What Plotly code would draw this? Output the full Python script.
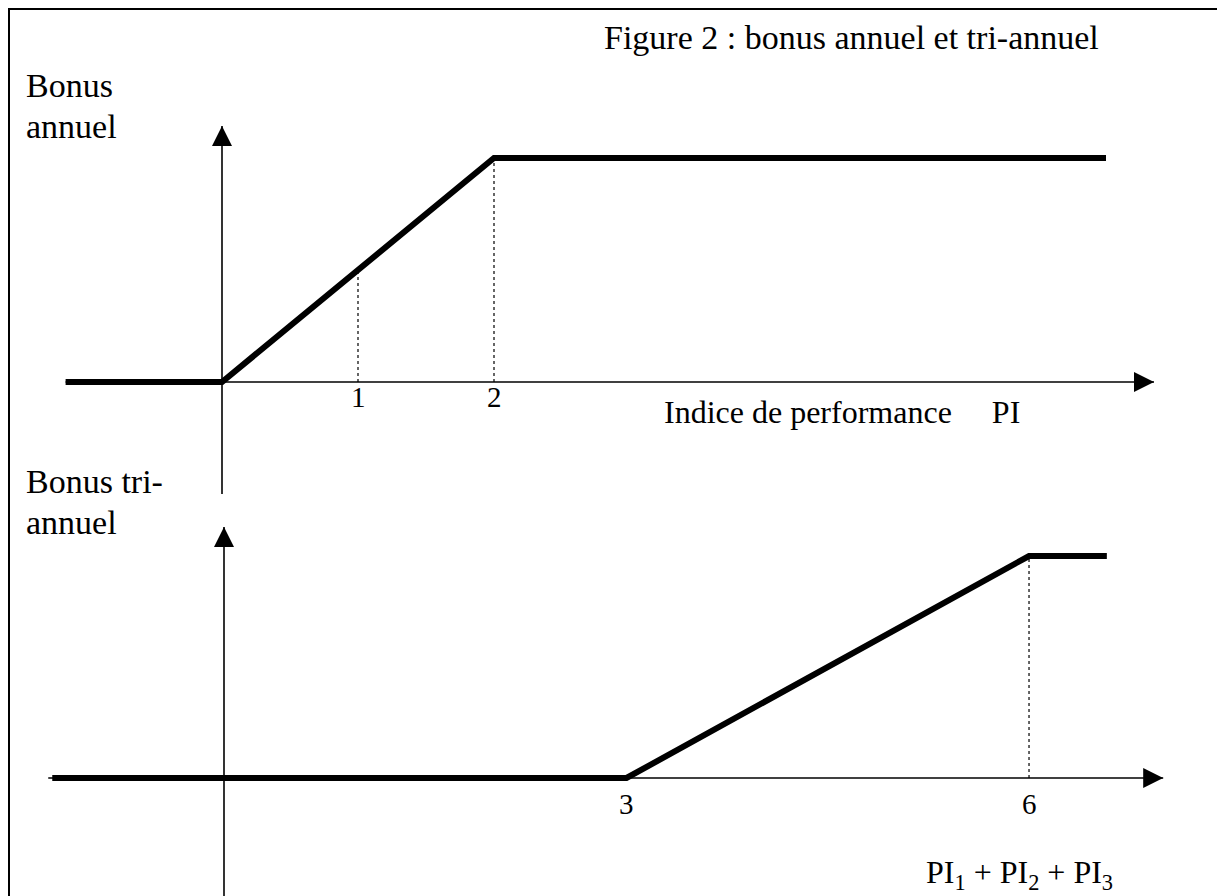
import numpy as np
import plotly.graph_objects as go

# --- data (diagram units) ---
pi_annual = [-1.15, 0, 2, 6.5]
bonus_annual = [0, 0, 1, 1]
annual_ticks = [1, 2]

pi_tri = [-1.28, 3, 6, 6.58]
bonus_tri = [0, 0, 1, 1]
tri_ticks = [3, 6]

# the page puts the plot 8px in from the window corner, so size it to fill the rest
OFF = 8
W, H = 1225 - OFF, 896 - OFF
SERIF = "Liberation Serif, Times New Roman, serif"
INK = "black"

# where each sketch sits on screen: origin px and px per unit
TOP = dict(x0=222, sx=136, y0=382, sy=224)
BOT = dict(x0=224, sx=134.17, y0=778, sy=222)


def ranges(a):
    ox, oy = a["x0"] - OFF, a["y0"] - OFF
    return [-ox / a["sx"], (W - ox) / a["sx"]], [(oy - H) / a["sy"], oy / a["sy"]]


def px(x):
    return (x - OFF) / W


def py(y):
    return 1 - (y - OFF) / H


def axis_shapes(xref, yref, x_start, x_tip, y_bottom, y_tip):
    thin = dict(color=INK, width=1.6)
    head = 20
    return [
        dict(type="line", xref=xref, yref=yref, x0=x_start, x1=x_tip, y0=0, y1=0,
             line=thin, layer="below"),
        dict(type="path", xref=xref, yref=yref, xsizemode="pixel", ysizemode="pixel",
             xanchor=x_tip, yanchor=0, path=f"M0,0 L{-head},{head/2} L{-head},{-head/2} Z",
             fillcolor=INK, line=dict(width=0)),
        dict(type="line", xref=xref, yref=yref, x0=0, x1=0, y0=y_bottom, y1=y_tip,
             line=thin, layer="below"),
        dict(type="path", xref=xref, yref=yref, xsizemode="pixel", ysizemode="pixel",
             xanchor=0, yanchor=y_tip, path=f"M0,0 L{-head/2},{-head} L{head/2},{-head} Z",
             fillcolor=INK, line=dict(width=0)),
    ]


fig = go.Figure()
fig.add_trace(go.Scatter(x=pi_annual, y=bonus_annual, mode="lines", xaxis="x", yaxis="y",
                         line=dict(color=INK, width=6), hoverinfo="skip"))
fig.add_trace(go.Scatter(x=pi_tri, y=bonus_tri, mode="lines", xaxis="x2", yaxis="y2",
                         line=dict(color=INK, width=6), hoverinfo="skip"))

# dotted guides from the axis up to the curve
for xv in annual_ticks:
    fig.add_trace(go.Scatter(x=[xv, xv], y=[0, np.interp(xv, pi_annual, bonus_annual)],
                             mode="lines", xaxis="x", yaxis="y", hoverinfo="skip",
                             line=dict(color=INK, width=1.2, dash="dot")))
fig.add_trace(go.Scatter(x=[tri_ticks[1]] * 2, y=[0, np.interp(tri_ticks[1], pi_tri, bonus_tri)],
                         mode="lines", xaxis="x2", yaxis="y2", hoverinfo="skip",
                         line=dict(color=INK, width=1.2, dash="dot")))

shapes = []
shapes += axis_shapes("x", "y", pi_annual[0], 6.853, -0.5, 1.143)
shapes += axis_shapes("x2", "y2", -1.31, 7.0, -0.6, 1.131)
# frame round the figure
shapes.append(dict(type="rect", xref="paper", yref="paper", x0=1 / W, x1=1211 / W,
                   y0=-0.02, y1=1 - 1 / H, line=dict(color=INK, width=2)))

ann = []
for xv in annual_ticks:
    ann.append(dict(x=xv, y=0, xref="x", yref="y", text=str(xv),
                    yshift=-15, yanchor="middle", font=dict(size=29)))
for xv in tri_ticks:
    ann.append(dict(x=xv, y=0, xref="x2", yref="y2", text=str(xv),
                    yshift=-26, yanchor="middle", font=dict(size=29)))

ann += [
    dict(x=px(851), y=py(38), xanchor="center", yanchor="middle",
         text="Figure 2 : bonus annuel et tri-annuel", font=dict(size=34)),
    dict(x=px(24), y=py(65), xanchor="left", yanchor="top", text="Bonus", font=dict(size=34)),
    dict(x=px(24), y=py(106), xanchor="left", yanchor="top", text="annuel", font=dict(size=34)),
    dict(x=px(24), y=py(461), xanchor="left", yanchor="top", text="Bonus tri-", font=dict(size=34)),
    dict(x=px(24), y=py(502), xanchor="left", yanchor="top", text="annuel", font=dict(size=34)),
    dict(x=px(1022), y=py(412), xanchor="right", yanchor="middle",
         text="Indice de performance&nbsp;&nbsp;&nbsp;&nbsp; PI", font=dict(size=32)),
    dict(x=px(1115), y=py(874), xanchor="right", yanchor="middle",
         text="PI<sub>1</sub> + PI<sub>2</sub> + PI<sub>3</sub>", font=dict(size=32)),
]
for a in ann:
    a.setdefault("xref", "paper")
    a.setdefault("yref", "paper")
    a["showarrow"] = False

xr1, yr1 = ranges(TOP)
xr2, yr2 = ranges(BOT)
hidden = dict(visible=False, fixedrange=True, domain=[0, 1])

fig.update_layout(
    width=W, height=H,
    margin=dict(l=0, r=0, t=0, b=0),
    paper_bgcolor="white", plot_bgcolor="white",
    font=dict(family=SERIF, color=INK),
    showlegend=False,
    xaxis=dict(range=xr1, **hidden),
    yaxis=dict(range=yr1, **hidden),
    xaxis2=dict(range=xr2, anchor="y2", overlaying="x", **hidden),
    yaxis2=dict(range=yr2, anchor="x2", overlaying="y", **hidden),
    shapes=shapes,
    annotations=ann,
)

fig.write_html("out.html")
